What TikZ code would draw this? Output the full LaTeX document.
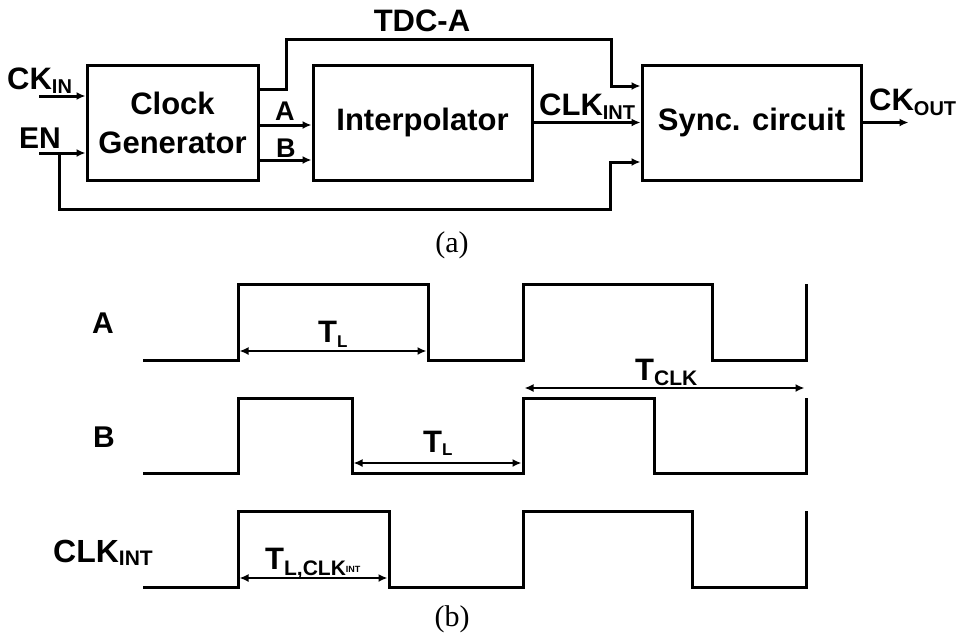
\documentclass[tikz,border=0pt]{standalone}
\usepackage{fontspec}
\setmainfont{Liberation Sans}
\newfontfamily\serifx{Liberation Serif}
\usetikzlibrary{arrows.meta,calc}
\newcommand{\fs}[1]{\fontsize{#1}{#1}\selectfont}
\newcommand{\lowsub}[3]{\raisebox{-#2pt}{\fs{#1}#3}}
\begin{document}
\begin{tikzpicture}[x=1pt,y=-1pt,
  blk/.style={draw,line width=3pt,rectangle,inner sep=0pt,minimum height=115pt,align=center,font=\bfseries\fontsize{31}{39}\selectfont},
  arr/.style={line width=3pt,-{Latex[length=9pt,width=8pt]}},
  dim/.style={line width=2.5pt,{Latex[length=9pt,width=8pt]}-{Latex[length=9pt,width=8pt]}},
  lbl/.style={anchor=base west,inner sep=0pt},
  wave/.style={line width=3pt,line join=miter}
]
\useasboundingbox (0,0) rectangle (964,635);

% ---------- (a) block diagram ----------
\node[blk,minimum width=171pt] (cg) at (172.5,122.5) {Clock\\Generator};
\node[blk,minimum width=219pt] (ip) at (422.5,122.5) {Interpolator};
\node[blk,minimum width=219pt] (sc) at (751.5,122.5) {Sync. circuit};

\coordinate (ckin) at (39,96);
\coordinate (en) at (39,153);
\coordinate (enb) at (59,153);

\draw[arr] (ckin) -- (ckin -| cg.west);
\draw[arr] (en) -- (en -| cg.west);
\draw[arr] (enb) -- ++(0,56) -- ++(551,0) |- ($(sc.west)+(0,39.5)$);
\draw[arr] ($(cg.east)+(0,-33.5)$) -- ++(27,0) -- ++(0,-50) -- ++(325,0) |- ($(sc.west)+(0,-36.5)$);
\draw[arr] ($(cg.east)+(0,2.5)$) -- ($(ip.west)+(0,2.5)$);
\draw[arr] ($(cg.east)+(0,37.5)$) -- ($(ip.west)+(0,37.5)$);
\draw[arr] (ip.east) -- (sc.west);
\draw[arr] (sc.east) -- ++(46,0) coordinate (ckout);

\node[lbl] (lckin) at (7,89) {\bfseries\fs{31}CK\lowsub{20}{4}{IN}};
\node[lbl] (len) at (19,148) {\bfseries\fs{30}EN};
\node[lbl] (la) at (275,120) {\bfseries\fs{27}A};
\node[lbl] (lb) at (276,157) {\bfseries\fs{27}B};
\node[lbl] (lclk) at (539,115) {\bfseries\fs{31}CLK\lowsub{20}{4}{INT}};
\node[lbl] (lckout) at (869,110) {\bfseries\fs{31}CK\lowsub{20}{5}{OUT}};
\node[inner sep=0pt] (ltdc) at (422,20.5) {\bfseries\fs{31}TDC-A};
\node[inner sep=0pt] (capa) at (452,245.5) {\serifx\fs{30}(a)};

% ---------- (b) timing diagram ----------
\draw[wave] (143,360) -- (238,360) -- (238,284) -- (428,284) -- (428,360) -- (523,360)
  -- (523,284) -- (712,284) -- (712,360) -- (806,360) -- (806,284);
\draw[wave] (143,473) -- (238,473) -- (238,398) -- (352,398) -- (352,473) -- (523,473)
  -- (523,398) -- (654,398) -- (654,473) -- (806,473) -- (806,398);
\draw[wave] (143,587) -- (238,587) -- (238,511) -- (389,511) -- (389,587) -- (523,587)
  -- (523,511) -- (692,511) -- (692,587) -- (806,587) -- (806,511);

\draw[dim] (239.5,351) -- (426.5,351);
\draw[dim] (353.5,463) -- (521.5,463);
\draw[dim] (524.5,388) -- (804.5,388);
\draw[dim] (239.5,578) -- (387.5,578);

\node[lbl] (wa) at (92,333) {\bfseries\fs{30}A};
\node[lbl] (wb) at (93,447) {\bfseries\fs{30}B};
\node[lbl] (wclk) at (53,562) {\bfseries\fs{32}CLK\lowsub{21}{3}{INT}};
\node[lbl] (tl1) at (318,342) {\bfseries\fs{31}T\lowsub{17}{5}{L}};
\node[lbl] (tl2) at (423,452) {\bfseries\fs{31}T\lowsub{17}{3}{L}};
\node[lbl] (tclk) at (635,380) {\bfseries\fs{31}T\lowsub{21}{5}{CLK}};
\node[lbl] (tl3) at (265,569) {\bfseries\fs{31}T\lowsub{21}{6}{L,CLK}\lowsub{9}{3}{INT}};
\node[inner sep=0pt] (capb) at (452,619.5) {\serifx\fs{30}(b)};
\end{tikzpicture}
\end{document}
